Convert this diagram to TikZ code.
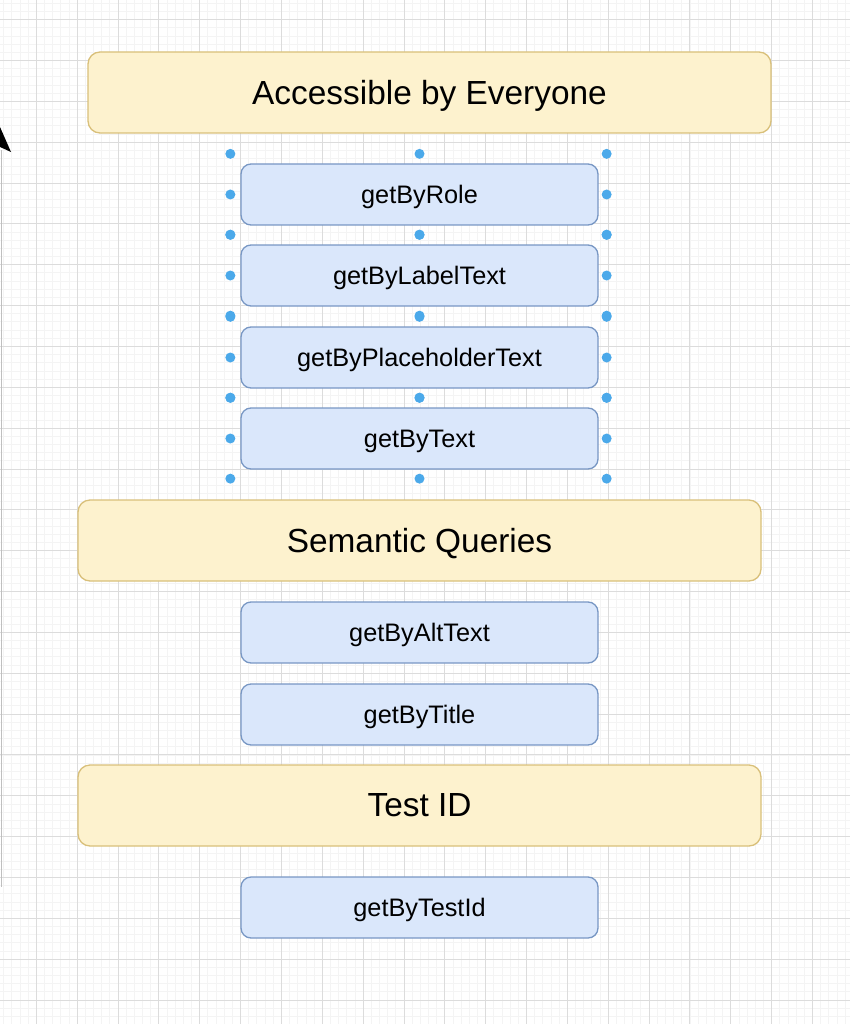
\documentclass[tikz,border=0pt]{standalone}
\usepackage{xcolor}
\usepackage{fontspec}
\setmainfont{Liberation Sans}
\usepackage{tikz}

\definecolor{catfill}{HTML}{FDF2CE}
\definecolor{catline}{HTML}{D9C07A}
\definecolor{qfill}{HTML}{DAE7FB}
\definecolor{qline}{HTML}{7897C4}
\definecolor{handlecol}{HTML}{4BA9EA}
\definecolor{minorgrid}{HTML}{F4F4F4}
\definecolor{majorgrid}{HTML}{DCDCDC}

\begin{document}
\begin{tikzpicture}[x=1pt,y=-1pt]
		\tikzstyle{every node}+=[inner sep=0pt, text depth=0pt]
		\tikzstyle{cat}=[draw=catline, fill=catfill, line width=1.3pt, rounded corners=12pt, minimum width=683pt, minimum height=81pt, font=\fontsize{33.4}{40}\selectfont]
		\tikzstyle{query}=[draw=qline, fill=qfill, line width=1.3pt, rounded corners=10pt, minimum width=357pt, minimum height=61pt, font=\fontsize{25.3}{30}\selectfont]
		\tikzstyle{handle}=[fill=handlecol]
		\useasboundingbox (0,0) rectangle (850,1024);
		\fill [white] (0,0) rectangle (850,1024);
		% background grid
		\foreach \k in {-4,...,99}
			\draw [minorgrid, line width=0.8pt] ({36.3+8.17*\k},0) -- ++(0,1024);
		\foreach \k in {-2,...,123}
			\draw [minorgrid, line width=0.8pt] (0,{19.6+8.17*\k}) -- ++(850,0);
		\foreach \k in {0,...,20}
			\draw [majorgrid, line width=0.9pt] ({36.3+40.85*\k},0) -- ++(0,1024);
		\foreach \k in {0,...,24}
			\draw [majorgrid, line width=0.9pt] (0,{19.6+40.85*\k}) -- ++(850,0);
		% mouse pointer and edge line
		\draw [black!25, line width=0.8pt] (1,150) -- (1,887);
		\fill [black] (0,127) -- (11,152) -- (0,147) -- cycle;
		% categories
		\node [cat] (everyone) at (429.5,92.5) {Accessible by Everyone};
		\node [cat] (semantic) at (419.5,540.5) {Semantic Queries};
		\node [cat] (testid) at (419.5,805.5) {Test ID};
		% queries
		\node [query] (role) at (419.5,194.5) {getByRole};
		\node [query] (label) at (419.5,275.5) {getByLabelText};
		\node [query] (placeholder) at (419.5,357.5) {getByPlaceholderText};
		\node [query] (text) at (419.5,438.5) {getByText};
		\node [query] (alttext) at (419.5,632.5) {getByAltText};
		\node [query] (title) at (419.5,714.5) {getByTitle};
		\node [query] (testidq) at (419.5,907.5) {getByTestId};
		% selection handles
		\foreach \b in {role,label,placeholder,text}
			\foreach \dx/\dy/\a in {-10/-9.5/north west, 0/-9.5/north, 8/-9.5/north east, -10/0/west, 8/0/east, -10/9/south west, 0/9/south, 8/9/south east}
				\fill [handle] ([shift={(\dx,\dy)}]\b.\a) circle (5);
	\end{tikzpicture}
\end{document}
